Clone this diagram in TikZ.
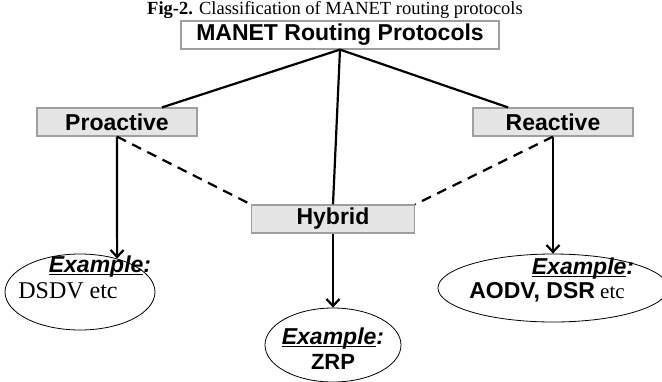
\documentclass[tikz,border=0pt]{standalone}
\usepackage{fontspec}
\setmainfont{Liberation Serif}
\setsansfont{Liberation Sans}
\usetikzlibrary{arrows.meta,shapes.geometric}

\tikzset{
  protobox/.style={draw=gray!75,line width=1.2pt,fill=gray!20,inner sep=0pt,
    font=\sffamily\bfseries\fontsize{23}{25}\selectfont},
  exellipse/.style={ellipse,draw=black,line width=0.8pt,inner sep=0pt},
  extext/.style={font=\sffamily\bfseries\itshape\fontsize{23}{25}\selectfont},
  exname/.style={font=\sffamily\bfseries\fontsize{22}{24}\selectfont},
}
\newcommand{\exlabel}{\underline{\smash{Example}}:}

\begin{document}
\begin{tikzpicture}[x=1pt,y=-1pt]

\useasboundingbox (0,0) rectangle (662,381);

\node[font=\fontsize{18.5}{20}\selectfont] (title) at (335,10) {\textbf{Fig-2.} Classification of MANET routing protocols};

\begin{scope}[every node/.style={protobox}]
	\node[fill=white,minimum width=318,minimum height=28] (manet) at (340,35) {MANET Routing Protocols};
	\node[minimum width=160,minimum height=28] (pro) at (117,122) {Proactive};
	\node[minimum width=160,minimum height=28] (rea) at (553,122) {Reactive};
	\node[minimum width=163,minimum height=28] (hyb) at (333,219) {Hybrid};
\end{scope}

\begin{scope}[every node/.style={exellipse}]
	\node[minimum width=150,minimum height=76] (ex1) at (80,292) {};
	\node[minimum width=136,minimum height=74] (ex2) at (333,345) {};
	\node[minimum width=230,minimum height=68] (ex3) at (553,288) {};
\end{scope}

\node[extext] (ex1a) at (100,268) {\exlabel};
\node[font=\fontsize{24}{26}\selectfont] (ex1b) at (68,291) {DSDV etc};
\node[extext] (ex2a) at (333,340) {\exlabel};
\node[exname] (ex2b) at (333,362) {ZRP};
\node[extext] (ex3a) at (583,270) {\exlabel};
\node[font=\fontsize{21}{23}\selectfont] (ex3b) at (547,292) {\textsf{\bfseries\fontsize{23}{25}\selectfont AODV, DSR} etc};

\begin{scope}[>={Straight Barb[length=7pt,width=13pt]}, every edge/.style={draw=black,line width=2.2pt}]
	\path (manet.south) edge (pro.18);
	\path (manet.south) edge (rea.162);
	\path (manet.south) edge (hyb.north);
	\path [->] (pro.south) edge (ex1.42);
	\path [->] (hyb.south) edge (ex2.north);
	\path [->] (rea.south) edge (ex3.north);
	\path [dash pattern=on 10pt off 7pt] (pro.south) edge (hyb.north west);
	\path [dash pattern=on 10pt off 7pt] (rea.south) edge (hyb.north east);
\end{scope}

\end{tikzpicture}
\end{document}
